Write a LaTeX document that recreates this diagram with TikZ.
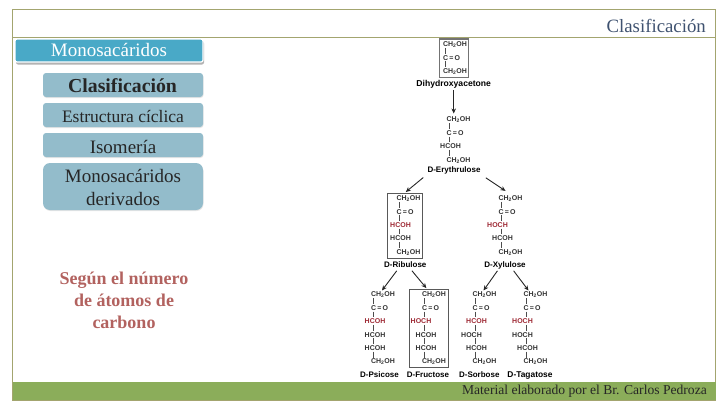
\documentclass[tikz,border=0pt]{standalone}
\usepackage{fontspec}
\setmainfont{Liberation Serif}
\setsansfont{Liberation Sans}
\usetikzlibrary{arrows.meta}
\usetikzlibrary{shadows}

\definecolor{framecol}{HTML}{A3A56F}
\definecolor{headcol}{HTML}{49A9C7}
\definecolor{btncol}{HTML}{93BCCB}
\definecolor{bandcol}{HTML}{8BAD5A}
\definecolor{titlecol}{HTML}{3F5270}
\definecolor{notecol}{HTML}{B2625F}
\definecolor{redcol}{HTML}{9E2A35}

\newcommand{\chtwo}{CH\textsubscript{2}OH}

\tikzset{
    btn/.style={fill=btncol, rounded corners=3pt, drop shadow={shadow xshift=0.5pt, shadow yshift=-1pt, opacity=0.2}},
    btntext/.style={text=black!85, align=center, font=\fontsize{19}{23}\selectfont},
    fml/.style={inner sep=1pt, text height=5.2pt, text depth=0pt, font=\sffamily\bfseries\fontsize{7}{8}\selectfont, text=black!80},
    ketol/.style={fml, xshift=9.5pt, node contents={\chtwo}},
    keto/.style={fml, xshift=6pt, node contents={C\,=\,O}},
    hcoh/.style={fml, xshift=1.5pt, node contents={HCOH}},
    hoch/.style={fml, xshift=-3.5pt, node contents={HOCH}},
    redhcoh/.style={hcoh, text=redcol},
    redhoch/.style={hoch, text=redcol},
    sugarname/.style={inner sep=1pt, text height=6pt, text depth=1.6pt, font=\sffamily\bfseries\fontsize{8}{9}\selectfont, text=black},
    sugarbox/.style={draw=black!65, line width=0.9pt, inner sep=0pt},
    bond/.style={black!70, line width=0.6pt},
    arr/.style={line width=0.9pt, black!85, -{Stealth[length=5pt, width=4.5pt]}},
}

\newcommand{\chain}[4]{%
    \foreach \kind [count=\i] in {#4} {
        \node[\kind, name=#1-\i, at={(#2,{#3+(\i-1)*13.4})}];
        \ifnum\i>1
            \pgfmathtruncatemacro{\p}{\i-1}
            \draw [bond] (#2,0 |- #1-\p.south) to (#2,0 |- #1-\i.north);
        \fi
    }%
}

\begin{document}
\begin{tikzpicture}[x=1pt, y=-1pt]
    \useasboundingbox (0,0) rectangle (728,410);

    \draw [framecol, line width=0.8pt] (12.5,9) rectangle (715.5,400);
    \draw [framecol, line width=0.8pt] (12.5,37) to (715.5,37);
    \fill [bandcol] (12.5,382) rectangle (715.5,400);

    \node[text=titlecol, anchor=east, inner sep=0pt, font=\fontsize{18.8}{20}\selectfont] (title) at (706,26) {Clasificación};
    \node[text=black!85, anchor=east, inner sep=0pt, font=\fontsize{13.6}{16}\selectfont] (credit) at (707,391.5) {Material elaborado por el Br. Carlos Pedroza};

    \node[fill=headcol, draw=white, line width=1.2pt, minimum width=188pt, minimum height=23pt, inner sep=0pt, rounded corners=2pt,
        drop shadow={shadow xshift=1pt, shadow yshift=-2.5pt, opacity=0.6}] (head) at (109,50.5) {};
    \node[text=white, font=\fontsize{19}{22}\selectfont] (headtext) at (109,50) {Monosacáridos};

    \foreach \name/\y/\h/\r in {clas/85/24/3, estr/115/24/3, isom/145/24/3, deri/186.5/47/7} {
        \node[btn, rounded corners=\r pt, minimum width=160pt, minimum height=\h pt, inner sep=0pt] (\name) at (123,\y) {};
    }
    \node[btntext, font=\bfseries\fontsize{19.8}{23}\selectfont] (clastext) at (122.5,86) {Clasificación};
    \node[btntext, font=\fontsize{17.5}{22}\selectfont] (estrtext) at (123,116) {Estructura cíclica};
    \node[btntext] (isomtext) at (123,147) {Isomería};
    \node[btntext] (deritext) at (123,187) {Monosacáridos\\derivados};

    \node[text=notecol, align=center, font=\bfseries\fontsize{18}{22}\selectfont] (note) at (124,300) {Según el número\\de átomos de\\carbono};

    \chain{dha}{445.5}{44}{ketol, keto, ketol}
    \chain{eri}{449}{119.3}{ketol, keto, hcoh, ketol}
    \chain{rib}{399}{198}{ketol, keto, redhcoh, hcoh, ketol}
    \chain{xyl}{501}{198}{ketol, keto, redhoch, hcoh, ketol}
    \chain{psi}{373.5}{294.3}{ketol, keto, redhcoh, hcoh, hcoh, ketol}
    \chain{fru}{424.5}{294.3}{ketol, keto, redhoch, hcoh, hcoh, ketol}
    \chain{sor}{475}{294.3}{ketol, keto, redhcoh, hoch, hcoh, ketol}
    \chain{tag}{526}{294.3}{ketol, keto, redhoch, hoch, hcoh, ketol}

    \node[sugarbox, draw=black!55, line width=1.2pt, minimum width=29.5pt, minimum height=38.5pt] (dhabox) at (454,58.3) {};
    \node[sugarbox, minimum width=34.5pt, minimum height=65pt] (ribbox) at (405,225.6) {};
    \node[sugarbox, minimum width=39.5pt, minimum height=78.5pt] (frubox) at (429,328.6) {};

    \foreach \name/\x/\y/\fs/\txt in {dhaname/453.7/84.3/8.6/Dihydroxyacetone, eriname/454/170/8/D-Erythrulose,
        ribname/405.3/265/8/D-Ribulose, xylname/505/265/8/D-Xylulose, psiname/379.5/375/8/D-Psicose,
        fruname/428/375/8/D-Fructose, sorname/479.3/375/8/D-Sorbose, tagname/530/375/8.4/D-Tagatose} {
        \node[sugarname, font=\sffamily\bfseries\fontsize{\fs}{9}\selectfont] (\name) at (\x,\y) {\txt};
    }

    \draw [arr, shorten <=1pt, shorten >=2pt] (dhaname.south) to (dhaname.south |- eri-1.north);
    \draw [arr, shorten <=4pt, shorten >=1pt] (eriname.south west) to (ribbox.north);
    \draw [arr, shorten <=5pt, shorten >=6pt] (eriname.south east) to (xyl-1.north);
    \draw [arr, shorten <=1pt] ([xshift=-8pt]ribname.south) to ([xshift=-1pt]psi-1.north);
    \draw [arr, shorten <=1pt, shorten >=1pt] ([xshift=6pt]ribname.south) to ([xshift=-2pt]frubox.north);
    \draw [arr, shorten <=1pt] ([xshift=-7pt]xylname.south) to ([xshift=-1pt]sor-1.north);
    \draw [arr, shorten <=1pt] ([xshift=8pt]xylname.south) to ([xshift=-7pt]tag-1.north);
\end{tikzpicture}
\end{document}
